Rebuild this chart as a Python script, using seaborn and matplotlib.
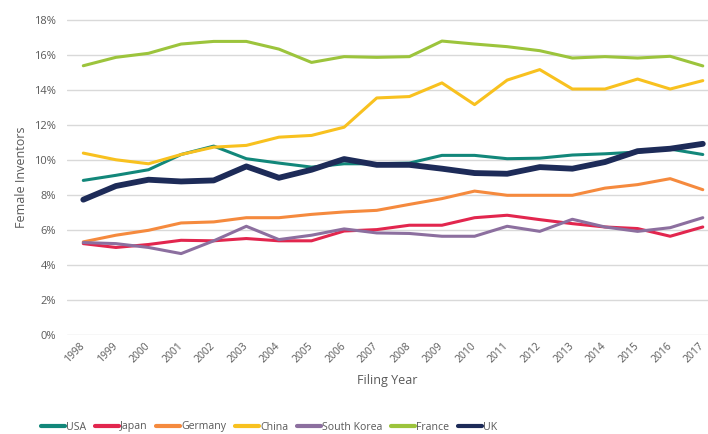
import matplotlib
matplotlib.use("Agg")
import matplotlib.pyplot as plt
import matplotlib.transforms as mtransforms
import seaborn as sns
import pandas as pd
from matplotlib.ticker import FuncFormatter

years = [str(y) for y in range(1998, 2018)]
usa = [8.83, 9.12, 9.44, 10.31, 10.79, 10.07, 9.82, 9.59, 9.78, 9.78, 9.82, 10.26, 10.26, 10.07, 10.10, 10.28, 10.35, 10.45, 10.62, 10.31]
japan = [5.22, 5.00, 5.17, 5.41, 5.38, 5.51, 5.38, 5.38, 5.94, 6.02, 6.27, 6.27, 6.70, 6.84, 6.59, 6.36, 6.17, 6.08, 5.64, 6.17]
germany = [5.32, 5.70, 5.98, 6.40, 6.46, 6.70, 6.70, 6.89, 7.03, 7.12, 7.46, 7.79, 8.22, 7.98, 7.98, 7.98, 8.39, 8.59, 8.93, 8.30]
china = [10.39, 10.01, 9.78, 10.31, 10.73, 10.83, 11.30, 11.40, 11.87, 13.54, 13.62, 14.40, 13.16, 14.56, 15.16, 14.05, 14.05, 14.62, 14.05, 14.53]
south_korea = [5.28, 5.22, 5.00, 4.65, 5.38, 6.21, 5.45, 5.70, 6.06, 5.83, 5.80, 5.64, 5.64, 6.21, 5.92, 6.61, 6.17, 5.92, 6.13, 6.70]
france = [15.38, 15.86, 16.09, 16.62, 16.77, 16.77, 16.33, 15.57, 15.90, 15.86, 15.90, 16.79, 16.62, 16.47, 16.24, 15.82, 15.90, 15.82, 15.92, 15.37]
uk = [7.73, 8.51, 8.87, 8.77, 8.83, 9.63, 8.98, 9.44, 10.05, 9.72, 9.72, 9.50, 9.25, 9.21, 9.59, 9.50, 9.88, 10.50, 10.64, 10.92]

series = {"USA": usa, "Japan": japan, "Germany": germany, "China": china,
          "South Korea": south_korea, "France": france, "UK": uk}
colors = {"USA": "#12877a", "Japan": "#e2264e", "Germany": "#f58a3e", "China": "#f8c11f",
          "South Korea": "#8c6f9f", "France": "#9cc43c", "UK": "#1d2b58"}
widths = {"USA": 2.2, "Japan": 2.2, "Germany": 2.2, "China": 2.2,
          "South Korea": 2.2, "France": 2.2, "UK": 4.2}

rows = []
for name, vals in series.items():
    for y, v in zip(years, vals):
        rows.append({"year": y, "value": v, "country": name})
df = pd.DataFrame(rows)

sns.set_theme(style="white")
plt.rcParams["font.family"] = ["Open Sans", "DejaVu Sans"]
gray = "#595959"

fig = plt.figure(figsize=(7.08, 4.34), dpi=100)
ax = fig.add_axes([67/708, 1 - 335/434, (708-67)/708, (335-19)/434])

for name in series:
    sub = df[df.country == name]
    sns.lineplot(data=sub, x="year", y="value", ax=ax, color=colors[name],
                 linewidth=widths[name], label=name, sort=False,
                 solid_capstyle="round", solid_joinstyle="round")

ax.set_ylim(0, 18.05)
ax.set_yticks(range(0, 19, 2))
ax.yaxis.set_major_formatter(FuncFormatter(lambda v, p: f"{int(v)}%"))
ax.set_xlim(-0.5, 19.16)
ax.grid(axis="y", color="#d9d9d9", linewidth=1)
ax.grid(axis="x", visible=False)
for s in ax.spines.values():
    s.set_visible(False)
ax.tick_params(axis="y", length=0, colors=gray, labelsize=8, pad=8)
ax.tick_params(axis="x", length=0, colors=gray, labelsize=7.5, pad=4)
offset = mtransforms.ScaledTranslation(-4/100, 0, fig.dpi_scale_trans)
for lab in ax.get_xticklabels():
    lab.set_rotation(45)
    lab.set_ha("right")
    lab.set_rotation_mode("anchor")
    lab.set_transform(lab.get_transform() + offset)
ax.set_xlabel("Filing Year", color=gray, fontsize=9, labelpad=6)
ax.set_ylabel("Female Inventors", color=gray, fontsize=9, labelpad=4)

ax.get_legend().remove()
handles, labels = ax.get_legend_handles_labels()
leg = fig.legend(handles, labels, loc="center", bbox_to_anchor=(0.38, 1 - 427/434),
                 ncol=7, frameon=False, fontsize=7.6, handlelength=2.3,
                 handletextpad=0.1, columnspacing=0.8, labelcolor=gray,
                 borderpad=0.1)
for line in leg.get_lines():
    line.set_linewidth(3)

fig.savefig("out.png", dpi=100)
